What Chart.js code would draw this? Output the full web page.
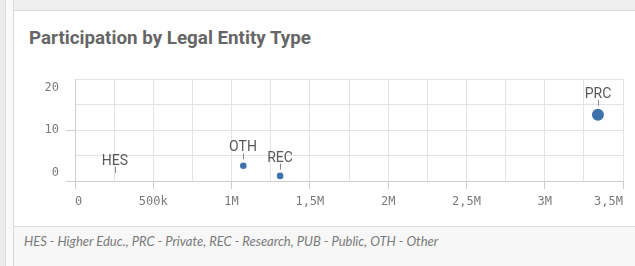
<!DOCTYPE html>
<html>
<head>
<meta charset="utf-8">
<script src="https://cdn.jsdelivr.net/npm/chart.js@4.4.1/dist/chart.umd.min.js"></script>
<style>
  html, body { margin: 0; padding: 0; }
  body { width: 635px; height: 266px; position: relative; overflow: hidden; background: #f2f2f2; }
  .strip-a { position: absolute; left: 0; top: 0; width: 5px; height: 266px; background: #ececec; }
  .strip-line1 { position: absolute; left: 5px; top: 0; width: 1px; height: 266px; background: #dedede; }
  .strip-b { position: absolute; left: 6px; top: 0; width: 7px; height: 266px; background: #f9f9f9; }
  .strip-line2 { position: absolute; left: 13px; top: 0; width: 1px; height: 266px; background: #d9d9d9; }
  .topband { position: absolute; left: 14px; top: 0; width: 621px; height: 10px; background: #efefef; border-bottom: 1px solid #dcdcdc; }
  .card { position: absolute; left: 14px; top: 11px; width: 621px; height: 255px; background: #ffffff; }
  .title { position: absolute; left: 29px; top: 28px; font: bold 18.8px Roboto, Lato, sans-serif; color: #666666; white-space: nowrap; line-height: 20px; letter-spacing: 0px; }
  .footer { position: absolute; left: 14px; top: 226px; width: 621px; height: 40px; background: #f7f7f7; border-top: 1px solid #dedede; }
  .footnote { position: absolute; left: 24px; top: 233px; font: italic 13px Lato, Roboto, sans-serif; color: #7a7a7a; white-space: nowrap; line-height: 16px; }
  canvas { position: absolute; left: 0; top: 0; }
</style>
</head>
<body>
<div class="strip-a"></div>
<div class="strip-line1"></div>
<div class="strip-b"></div>
<div class="strip-line2"></div>
<div class="topband"></div>
<div class="card"></div>
<div class="title">Participation by Legal Entity Type</div>
<div class="footer"></div>
<div class="footnote">HES - Higher Educ., PRC - Private, REC - Research, PUB - Public, OTH - Other</div>
<canvas id="c" width="635" height="266"></canvas>
<script>
// ---- data ----
const categories = ['HES', 'OTH', 'REC', 'PRC'];
const xValues = [255000, 1075000, 1310000, 3340000];   // x measure
const yValues = [1, 3, 1, 13];                          // y measure
const sizeValues = [0, 3, 3, 10];                       // bubble size measure
const xTickValues = [0, 500000, 1000000, 1500000, 2000000, 2500000, 3000000, 3500000];
const xTickLabels = ['0', '500k', '1M', '1,5M', '2M', '2,5M', '3M', '3,5M'];
const yTickValues = [0, 10, 20];
const yTickLabels = ['0', '10', '20'];

const points = categories.map((c, i) => ({ x: xValues[i], y: yValues[i], s: sizeValues[i], label: c }));

const tickFont = '12px "DejaVu Sans Mono", monospace';
const tickColor = '#7a7a7a';

const labelPlugin = {
  id: 'bubbleLabels',
  afterDatasetsDraw(chart) {
    const ctx = chart.ctx;
    const meta = chart.getDatasetMeta(0);
    ctx.save();
    ctx.font = '14px Roboto, sans-serif';
    ctx.fillStyle = '#595959';
    ctx.textAlign = 'center';
    ctx.textBaseline = 'alphabetic';
    ctx.strokeStyle = '#8a8a8a';
    ctx.lineWidth = 1;
    meta.data.forEach((el, i) => {
      const r = el.options.radius || 0;
      const px = Math.round(el.x);
      const top = el.y - r;
      ctx.fillText(points[i].label, px, top - 11);
      ctx.beginPath();
      ctx.moveTo(px + 0.5, top - 9);
      ctx.lineTo(px + 0.5, top - 3);
      ctx.stroke();
    });
    ctx.restore();
  },
  afterDraw(chart) {
    const ctx = chart.ctx;
    const ys = chart.scales.y;
    ctx.save();
    ctx.font = tickFont;
    ctx.fillStyle = tickColor;
    ctx.textAlign = 'right';
    ctx.textBaseline = 'middle';
    yTickValues.forEach((v, i) => {
      let py = ys.getPixelForValue(v);
      if (v === ys.max) py += 9;
      if (v === ys.min) py -= 8;
      ctx.fillText(yTickLabels[i], 59, py);
    });
    ctx.restore();
  }
};

new Chart(document.getElementById('c'), {
  type: 'bubble',
  data: {
    datasets: [{
      data: points,
      backgroundColor: '#3f72ab',
      borderColor: '#3f72ab',
      borderWidth: 0,
      radius: (ctx) => {
        const p = ctx.raw;
        return p ? 1.9 * Math.sqrt(p.s) : 0;
      },
      hoverRadius: 0
    }]
  },
  options: {
    responsive: false,
    animation: false,
    events: [],
    layout: { padding: { left: 0, right: 12, top: 79, bottom: 55 } },
    plugins: { legend: { display: false }, tooltip: { enabled: false } },
    scales: {
      x: {
        type: 'linear',
        min: 0,
        max: 3500000,
        afterBuildTicks(scale) {
          const t = [];
          for (let v = 0; v <= 3500000; v += 250000) t.push({ value: v });
          scale.ticks = t;
        },
        afterFit(scale) { scale.height = 30; },
        grid: {
          color: '#e4e4e4',
          lineWidth: 1,
          drawTicks: true,
          tickLength: 8,
          tickColor: (ctx) => (ctx.tick && xTickValues.includes(ctx.tick.value)) ? '#cfcfcf' : 'rgba(0,0,0,0)'
        },
        border: { display: true, color: '#cfcfcf' },
        ticks: {
          autoSkip: false,
          maxRotation: 0,
          align: 'inner',
          padding: 6,
          color: tickColor,
          font: { family: '"DejaVu Sans Mono", monospace', size: 12 },
          callback: (v) => {
            const i = xTickValues.indexOf(v);
            return i >= 0 ? xTickLabels[i] : '';
          }
        }
      },
      y: {
        type: 'linear',
        min: 0,
        max: 20,
        afterBuildTicks(scale) {
          const t = [];
          for (let v = 0; v <= 20; v += 5) t.push({ value: v });
          scale.ticks = t;
        },
        afterFit(scale) { scale.width = 75; },
        grid: {
          color: '#e4e4e4',
          lineWidth: 1,
          drawTicks: true,
          tickLength: 9,
          tickColor: (ctx) => (ctx.tick && (ctx.tick.value === 0 || ctx.tick.value === 10)) ? '#cfcfcf' : 'rgba(0,0,0,0)'
        },
        border: { display: true, color: '#cfcfcf' },
        ticks: {
          color: 'rgba(0,0,0,0)',
          font: { family: '"DejaVu Sans Mono", monospace', size: 12 },
          callback: (v) => {
            const i = yTickValues.indexOf(v);
            return i >= 0 ? yTickLabels[i] : '';
          }
        }
      }
    }
  },
  plugins: [labelPlugin]
});
</script>
</body>
</html>
